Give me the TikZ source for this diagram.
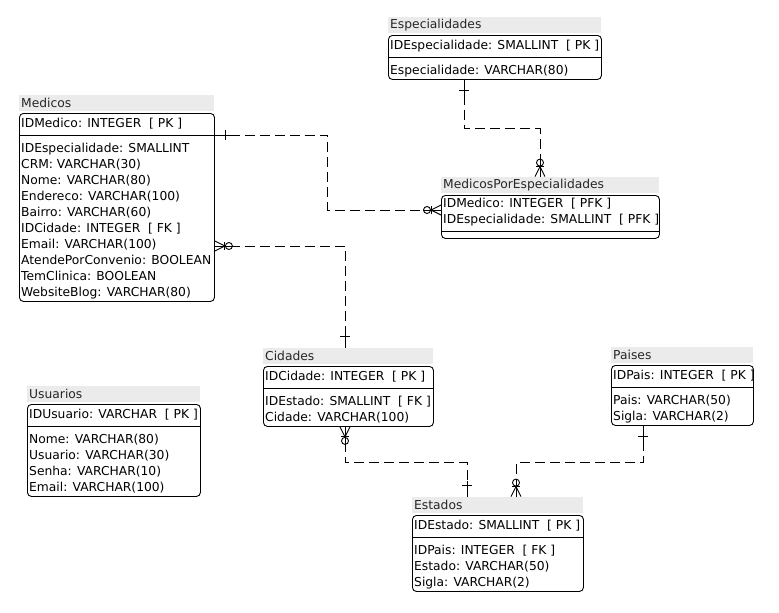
\documentclass[tikz,border=0pt]{standalone}
\usepackage{fontspec}
\setmainfont{DejaVu Sans}
\usetikzlibrary{calc}
\tikzset{
 ent/.style={draw, rounded corners=4pt, line width=0.9pt, inner sep=0pt, anchor=north west},
 tbar/.style={fill=black!8, inner sep=0pt, minimum height=16pt, anchor=south west},
 ttl/.style={font=\fontsize{12.3}{14}\selectfont, inner sep=0pt, anchor=west, text=black!85},
 fld/.style={font=\fontsize{12.3}{14}\selectfont, inner sep=0pt, anchor=base west},
 sepl/.style={line width=0.9pt},
 rel/.style={line width=0.9pt, dash pattern=on 10pt off 5pt},
 mk/.style={line width=0.9pt},
}
\newcommand\onemk[3]{%
 \draw[mk] (#1) -- ($(#1)+16*(#2,#3)$);
 \draw[mk] ($(#1)+11*(#2,#3)+5*(#3,#2)$) -- ($(#1)+11*(#2,#3)-5*(#3,#2)$);}
\newcommand\manymk[3]{%
 \draw[mk] (#1) -- ($(#1)+18*(#2,#3)$);
 \draw[mk] ($(#1)+10*(#2,#3)$) -- ($(#1)+5*(#3,#2)$);
 \draw[mk] ($(#1)+10*(#2,#3)$) -- ($(#1)-5*(#3,#2)$);
 \draw[mk] ($(#1)+10*(#2,#3)+4*(#3,#2)$) -- ($(#1)+10*(#2,#3)-4*(#3,#2)$);
 \draw[mk] ($(#1)+14*(#2,#3)$) circle (3.5);}
\begin{document}
\begin{tikzpicture}[x=1pt,y=-1pt]
\useasboundingbox (0,0) rectangle (779,613);
% Especialidades
\node[tbar, minimum width=213pt] (espT) at (388,33) {};
\node[ttl] (espTt) at ($(espT.west)+(2,0)$) {Especialidades};
\node[ent, minimum width=213pt, minimum height=44pt] (esp) at (388,35) {};
\draw[sepl] (388,57.5) -- (601,57.5);
\node[fld] (esp1) at (390,49.5) {IDEspecialidade: SMALLINT~~[ PK ]};
\node[fld] (esp2) at (390,74.5) {Especialidade: VARCHAR(80)};
% Medicos
\node[tbar, minimum width=195pt] (medT) at (19,111) {};
\node[ttl] (medTt) at ($(medT.west)+(2,0)$) {Medicos};
\node[ent, minimum width=195pt, minimum height=188pt] (med) at (19,113) {};
\draw[sepl] (19,135.5) -- (214,135.5);
\node[fld] (med0) at (21,127.5) {IDMedico: INTEGER~~[ PK ]};
\node[fld] (med1) at (21,152.5) {IDEspecialidade: SMALLINT};
\node[fld] (med2) at (21,168.5) {CRM: VARCHAR(30)};
\node[fld] (med3) at (21,184.5) {Nome: VARCHAR(80)};
\node[fld] (med4) at (21,200.5) {Endereco: VARCHAR(100)};
\node[fld] (med5) at (21,216.5) {Bairro: VARCHAR(60)};
\node[fld] (med6) at (21,232.5) {IDCidade: INTEGER~~[ FK ]};
\node[fld] (med7) at (21,248.5) {Email: VARCHAR(100)};
\node[fld] (med8) at (21,264.5) {AtendePorConvenio: BOOLEAN};
\node[fld] (med9) at (21,280.5) {TemClinica: BOOLEAN};
\node[fld] (med10) at (21,296.5) {WebsiteBlog: VARCHAR(80)};
% MedicosPorEspecialidades
\node[tbar, minimum width=218pt] (mpeT) at (441,193) {};
\node[ttl] (mpeTt) at ($(mpeT.west)+(2,0)$) {MedicosPorEspecialidades};
\node[ent, minimum width=218pt, minimum height=43pt] (mpe) at (441,195) {};
\draw[sepl] (441,231.5) -- (659,231.5);
\node[fld] (mpe1) at (443,207.5) {IDMedico: INTEGER~~[ PFK ]};
\node[fld] (mpe2) at (443,223.5) {IDEspecialidade: SMALLINT~~[ PFK ]};
% Cidades
\node[tbar, minimum width=170pt] (cidT) at (263,364) {};
\node[ttl] (cidTt) at ($(cidT.west)+(2,0)$) {Cidades};
\node[ent, minimum width=170pt, minimum height=60pt] (cid) at (263,366) {};
\draw[sepl] (263,388.5) -- (433,388.5);
\node[fld] (cid1) at (265,380.5) {IDCidade: INTEGER~~[ PK ]};
\node[fld] (cid2) at (265,405.5) {IDEstado: SMALLINT~~[ FK ]};
\node[fld] (cid3) at (265,421.5) {Cidade: VARCHAR(100)};
% Paises
\node[tbar, minimum width=142pt] (paiT) at (611,363) {};
\node[ttl] (paiTt) at ($(paiT.west)+(2,0)$) {Paises};
\node[ent, minimum width=142pt, minimum height=60pt] (pai) at (611,365) {};
\draw[sepl] (611,387.5) -- (753,387.5);
\node[fld] (pai1) at (613,379.5) {IDPais: INTEGER~~[ PK ]};
\node[fld] (pai2) at (613,404.5) {Pais: VARCHAR(50)};
\node[fld] (pai3) at (613,420.5) {Sigla: VARCHAR(2)};
% Estados
\node[tbar, minimum width=171pt] (estT) at (412,513) {};
\node[ttl] (estTt) at ($(estT.west)+(2,0)$) {Estados};
\node[ent, minimum width=171pt, minimum height=76pt] (est) at (412,515) {};
\draw[sepl] (412,537.5) -- (583,537.5);
\node[fld] (est1) at (414,529.5) {IDEstado: SMALLINT~~[ PK ]};
\node[fld] (est2) at (414,554.5) {IDPais: INTEGER~~[ FK ]};
\node[fld] (est3) at (414,570.5) {Estado: VARCHAR(50)};
\node[fld] (est4) at (414,586.5) {Sigla: VARCHAR(2)};
% Usuarios
\node[tbar, minimum width=173pt] (usuT) at (27,402) {};
\node[ttl] (usuTt) at ($(usuT.west)+(2,0)$) {Usuarios};
\node[ent, minimum width=173pt, minimum height=92pt] (usu) at (27,404) {};
\draw[sepl] (27,426.5) -- (200,426.5);
\node[fld] (usu1) at (29,418.5) {IDUsuario: VARCHAR~~[ PK ]};
\node[fld] (usu2) at (29,443.5) {Nome: VARCHAR(80)};
\node[fld] (usu3) at (29,459.5) {Usuario: VARCHAR(30)};
\node[fld] (usu4) at (29,475.5) {Senha: VARCHAR(10)};
\node[fld] (usu5) at (29,491.5) {Email: VARCHAR(100)};
% Relationships
\coordinate (r1a) at ($(esp.south west)+(76,0)$);
\coordinate (r1b) at ($(mpeT.north west)+(99,0)$);
\draw[rel] (r1a) -- ++(0,49) -| (r1b);
\onemk{r1a}{0}{1}
\manymk{r1b}{0}{-1}
\coordinate (r2a) at ($(med.north east)+(0,22)$);
\coordinate (r2b) at ($(mpe.north west)+(0,15)$);
\draw[rel] (r2a) -- ++(113,0) |- (r2b);
\onemk{r2a}{1}{0}
\manymk{r2b}{-1}{0}
\coordinate (r3a) at ($(med.north east)+(0,133)$);
\coordinate (r3b) at ($(cidT.north west)+(82,0)$);
\draw[rel] (r3a) -| (r3b);
\manymk{r3a}{1}{0}
\onemk{r3b}{0}{-1}
\coordinate (r4a) at ($(cid.south west)+(82,0)$);
\coordinate (r4b) at ($(estT.north west)+(55,0)$);
\draw[rel] (r4a) -- ++(0,36) -| (r4b);
\manymk{r4a}{0}{1}
\onemk{r4b}{0}{-1}
\coordinate (r5a) at ($(pai.south west)+(32,0)$);
\coordinate (r5b) at ($(estT.north west)+(104,0)$);
\draw[rel] (r5a) -- ++(0,37) -| (r5b);
\onemk{r5a}{0}{1}
\manymk{r5b}{0}{-1}
\end{tikzpicture}
\end{document}
